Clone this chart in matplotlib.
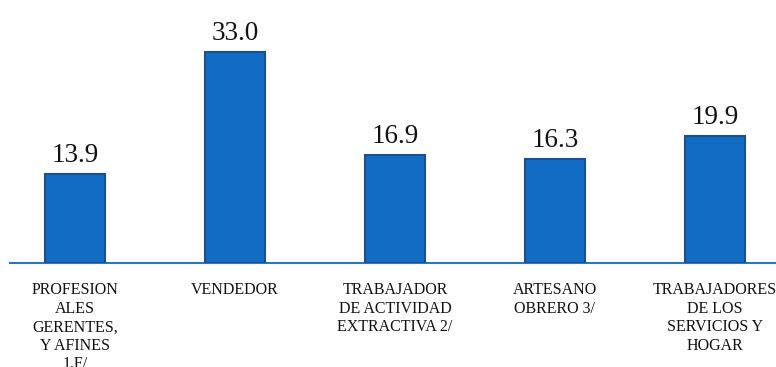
import matplotlib
matplotlib.use("Agg")
import matplotlib.pyplot as plt

categories = [
    "PROFESION\nALES\nGERENTES,\nY AFINES\n1.F/",
    "VENDEDOR",
    "TRABAJADOR\nDE ACTIVIDAD\nEXTRACTIVA 2/",
    "ARTESANO\nOBRERO 3/",
    "TRABAJADORES\nDE LOS\nSERVICIOS Y\nHOGAR",
]
values = [13.9, 33.0, 16.9, 16.3, 19.9]
value_labels = ["13.9", "33.0", "16.9", "16.3", "19.9"]

plt.rcParams["font.family"] = ["Liberation Serif", "DejaVu Serif"]

W, H, DPI = 776, 367, 100
fig = plt.figure(figsize=(W / DPI, H / DPI), dpi=DPI)

base_px = 104          # baseline height above figure bottom, pixels
left_px = 10
ax = fig.add_axes([left_px / W, base_px / H, 1 - left_px / W, 1 - base_px / H])

x = list(range(len(values)))
ax.bar(x, values, width=0.375, color="#126CC4", edgecolor="#1B4F8F",
       linewidth=1.5, zorder=3)

for xi, v, lab in zip(x, values, value_labels):
    ax.annotate(lab, (xi, v), xytext=(0, 4), textcoords="offset points",
                ha="center", va="bottom", fontsize=19.5, color="#111111")

unit_px = 6.4
ax.set_ylim(0, (H - base_px) / unit_px)
ax.set_xlim(-65 / 160, (W - left_px - 65) / 160)

ax.set_xticks(x)
ax.set_xticklabels(categories, fontsize=11.5, color="#111111", linespacing=1.2)
ax.tick_params(axis="x", length=0, pad=14)
ax.set_yticks([])

for s in ["top", "right", "left"]:
    ax.spines[s].set_visible(False)
ax.spines["bottom"].set_color("#2E75C0")
ax.spines["bottom"].set_linewidth(1.5)
ax.patch.set_alpha(0)

fig.savefig("out.png", dpi=DPI)
